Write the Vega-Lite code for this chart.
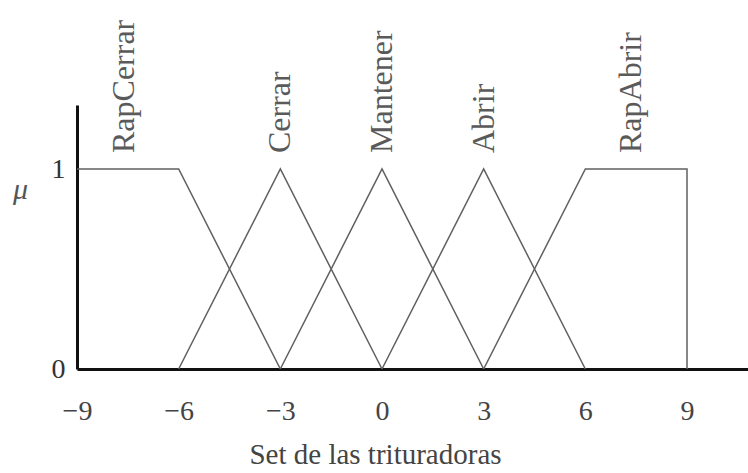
{
  "$schema": "https://vega.github.io/schema/vega-lite/v6.json",
  "width": 671,
  "height": 264,
  "autosize": {"type": "none"},
  "padding": {"left": 77, "top": 105, "right": 0, "bottom": 104},
  "background": "white",
  "config": {
    "view": {"stroke": null},
    "font": "Liberation Serif"
  },
  "datasets": {
    "membership": [
      {"set": "RapCerrar", "x": -9, "mu": 1, "k": 0},
      {"set": "RapCerrar", "x": -6, "mu": 1, "k": 1},
      {"set": "RapCerrar", "x": -3, "mu": 0, "k": 2},
      {"set": "Cerrar", "x": -6, "mu": 0, "k": 0},
      {"set": "Cerrar", "x": -3, "mu": 1, "k": 1},
      {"set": "Cerrar", "x": 0, "mu": 0, "k": 2},
      {"set": "Mantener", "x": -3, "mu": 0, "k": 0},
      {"set": "Mantener", "x": 0, "mu": 1, "k": 1},
      {"set": "Mantener", "x": 3, "mu": 0, "k": 2},
      {"set": "Abrir", "x": 0, "mu": 0, "k": 0},
      {"set": "Abrir", "x": 3, "mu": 1, "k": 1},
      {"set": "Abrir", "x": 6, "mu": 0, "k": 2},
      {"set": "RapAbrir", "x": 3, "mu": 0, "k": 0},
      {"set": "RapAbrir", "x": 6, "mu": 1, "k": 1},
      {"set": "RapAbrir", "x": 9, "mu": 1, "k": 2},
      {"set": "RapAbrir", "x": 9, "mu": 0, "k": 3}
    ],
    "names": [
      {"name": "RapCerrar", "center": -7.6},
      {"name": "Cerrar", "center": -3},
      {"name": "Mantener", "center": 0},
      {"name": "Abrir", "center": 3},
      {"name": "RapAbrir", "center": 7.35}
    ]
  },
  "layer": [
    {
      "data": {"name": "membership"},
      "mark": {"type": "line", "color": "#606060", "strokeWidth": 1.5},
      "encoding": {
        "x": {
          "field": "x",
          "type": "quantitative",
          "scale": {"domain": [-9, 10.8], "nice": false, "zero": false},
          "axis": {
            "values": [-9, -6, -3, 0, 3, 6, 9],
            "format": "d",
            "grid": false,
            "ticks": false,
            "domainColor": "#111111",
            "domainWidth": 3,
            "labelFont": "Liberation Serif",
            "labelFontSize": 28,
            "labelColor": "#444444",
            "labelPadding": 28,
            "labelFlush": false,
            "title": "Set de las trituradoras",
            "titleFont": "Liberation Serif",
            "titleFontSize": 29,
            "titleFontWeight": "normal",
            "titleColor": "#444444",
            "titleAnchor": "start",
            "titleAlign": "center",
            "titleBaseline": "alphabetic",
            "titleX": 298,
            "titleY": 94
          }
        },
        "y": {
          "field": "mu",
          "type": "quantitative",
          "scale": {"domain": [0, 1.32], "nice": false},
          "axis": {
            "values": [0, 1],
            "format": "d",
            "grid": false,
            "ticks": false,
            "domainColor": "#111111",
            "domainWidth": 3,
            "labelFont": "Liberation Serif",
            "labelFontSize": 28,
            "labelColor": "#333333",
            "labelPadding": 12,
            "title": "μ",
            "titleFont": "Liberation Serif",
            "titleFontStyle": "italic",
            "titleFontSize": 30,
            "titleFontWeight": "normal",
            "titleColor": "#555555",
            "titleAngle": 0,
            "titleAlign": "center",
            "titleBaseline": "middle",
            "titleX": -57,
            "titleY": 84
          }
        },
        "detail": {"field": "set"},
        "order": {"field": "k", "type": "quantitative"}
      }
    },
    {
      "data": {"name": "names"},
      "mark": {
        "type": "text",
        "angle": 270,
        "align": "left",
        "baseline": "middle",
        "font": "Liberation Serif",
        "fontSize": 32,
        "color": "#5a5a5a"
      },
      "encoding": {
        "x": {"field": "center", "type": "quantitative"},
        "y": {"datum": 1.08},
        "text": {"field": "name"}
      }
    }
  ]
}
